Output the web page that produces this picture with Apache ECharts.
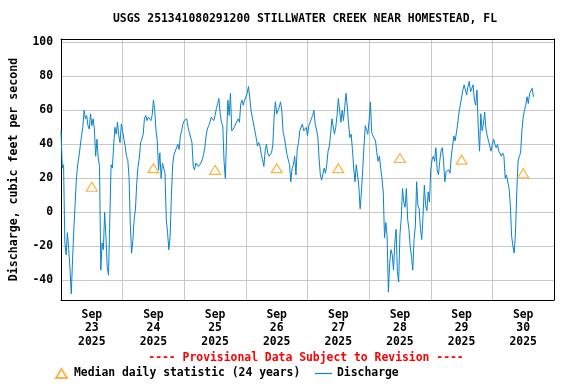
<!DOCTYPE html>
<html>
<head>
<meta charset="utf-8">
<script src="https://cdn.jsdelivr.net/npm/echarts@6/dist/echarts.min.js"></script>
<style>html,body{margin:0;padding:0;background:#fff}#c{width:576px;height:384px}</style>
</head>
<body>
<div id="c"></div>
<script>
const chartTitle = 'USGS 251341080291200 STILLWATER CREEK NEAR HOMESTEAD, FL';
const provisionalNote = '---- Provisional Data Subject to Revision ----';
const yAxisTitle = 'Discharge, cubic feet per second';
const dayLabels = ['Sep\n23\n2025', 'Sep\n24\n2025', 'Sep\n25\n2025', 'Sep\n26\n2025',
                   'Sep\n27\n2025', 'Sep\n28\n2025', 'Sep\n29\n2025', 'Sep\n30\n2025'];
// discharge readings every 30 minutes starting Sep 23 2025 00:00 (hours on x axis)
const stepHours = 0.5;
const discharge = [
  48, 26, 28, -18, -25, -12, -22, -33, -48, -28, -10, 5, 20, 28, 33, 39, 45, 50, 60, 55,
  57, 51, 49, 58, 51, 55, 49, 33, 43, 32, 27, -34, -18, -22, 0, -14, -32, -37, -5, 28,
  26, 39, 50, 46, 53, 45, 41, 52, 48, 43, 39, 33, 31, 21, -8, -24, -16, -4, 2, 17,
  27, 32, 41, 43,
  46, 55, 57, 54, 56, 55, 54, 57, 66, 60, 48, 42, 25, 35, 20, 29, 26, 23, -4, -12,
  -22, -14, 10, 28, 34, 36, 35, 40, 37, 45, 48, 52, 54, 55, 55, 50, 47, 46, 41, 27,
  25, 29, 28, 27, 28, 29, 31, 34, 38, 45, 49, 51, 53, 56, 56, 54, 57, 61, 64, 67,
  58, 53, 51, 30,
  20, 45, 66, 57, 70, 48, 47, 50, 52, 52, 55, 53, 64, 66, 63, 66, 65, 70, 74, 68,
  60, 56, 52, 48, 44, 39, 41, 39, 34, 31, 27, 36, 40, 35, 33, 33, 35, 40, 56, 65,
  58, 60, 62, 65, 60, 47, 44, 39, 34, 31, 28, 18, 26, 28, 33, 22, 37, 41, 48, 47,
  52, 48, 49, 50,
  45, 51, 51, 55, 57, 60, 52, 51, 45, 32, 22, 19, 18, 26, 23, 28, 36, 39, 46, 55,
  56, 46, 50, 57, 67, 60, 53, 60, 54, 62, 70, 62, 52, 44, 46, 37, 26, 18, 28, 22,
  15, 2, 12, 25, 39, 51, 50, 46, 54, 65, 47, 45, 44, 42, 35, 30, 33, 26, 20, 12,
  -15, -6, -14, -47,
  -30, -22, -25, -34, -18, -10, -35, -41, -13, -4, 14, 6, 3, 14, -4, -10, -20, -26, -34, -16,
  -8, 18, 4, 2, -10, -16, -2, 16, 4, 1, 12, 6, 25, 31, 33, 30, 38, 25, 22, 30,
  36, 38, 30, 18, 24, 25, 25, 23, 33, 39, 45, 42, 43, 52, 59, 63, 64, 72, 75, 72,
  69, 74, 77, 71, 73,
  75, 66, 63, 72, 50, 36, 58, 48, 52, 59, 49, 45, 42, 41, 36, 40, 43, 40, 38, 40,
  36, 37, 33, 35, 33, 20, 22, 21, 14, 4, -14, -20, -24, -12, 12, 30, 33, 35, 48, 56,
  60, 63, 68, 64, 70, 70, 73, 68
];
// median daily statistic, plotted at noon of each day
const medianDaily = [15, 26, 25, 26, 26, 32, 31, 23];
const medianName = 'Median daily statistic (24 years)';
const dischargeName = 'Discharge';

const font = '"DejaVu Sans Mono", "Liberation Mono", monospace';
const txt = { fontFamily: font, fontWeight: 'bold', fontSize: 11.4, color: '#000' };
const frameLine = { show: true, onZero: false, lineStyle: { color: '#000', width: 1 } };

const dischargeData = discharge.map((v, i) => [i * stepHours, v]);
const medianData = medianDaily.map((v, i) => [i * 24 + 12, v]);

const chart = echarts.init(document.getElementById('c'), null, { renderer: 'canvas' });
chart.setOption({
  animation: false,
  backgroundColor: '#fff',
  grid: { left: 58, right: 22, top: 39, bottom: 84, containLabel: false },
  graphic: [
    { type: 'text', x: 305, y: 14, style: { text: chartTitle, font: 'bold 11.4px ' + font, fill: '#000', align: 'center', textAlign: 'center', verticalAlign: 'top' } },
    { type: 'text', x: 306, y: 353, style: { text: provisionalNote, font: 'bold 11.4px ' + font, fill: '#ff0000', align: 'center', textAlign: 'center', verticalAlign: 'top' } }
  ],
  xAxis: [
    { type: 'value', min: 0, max: 192, interval: 24, position: 'bottom',
      axisLine: frameLine,
      axisTick: { show: false }, axisLabel: { show: false },
      splitLine: { show: true, lineStyle: { color: '#c8c8c8', width: 1 } } },
    { type: 'category', data: dayLabels, position: 'bottom', boundaryGap: true,
      axisLine: { show: false, onZero: false }, axisTick: { show: false }, splitLine: { show: false },
      axisLabel: Object.assign({ margin: 8, lineHeight: 13.5 }, txt) },
    { type: 'value', min: 0, max: 192, position: 'top',
      axisLine: frameLine,
      axisTick: { show: false }, axisLabel: { show: false }, splitLine: { show: false } }
  ],
  yAxis: [
    { type: 'value', min: -51.6, max: 102, minInterval: 20, maxInterval: 20, splitNumber: 8,
      position: 'left',
      name: yAxisTitle, nameLocation: 'middle', nameGap: 41, nameTextStyle: Object.assign({}, txt, { fontSize: 11.6 }),
      axisLine: frameLine,
      axisTick: { show: false },
      axisLabel: Object.assign({ margin: 8, showMinLabel: false, showMaxLabel: false }, txt),
      splitLine: { show: true, lineStyle: { color: '#c8c8c8', width: 1 } } },
    { type: 'value', min: -51.6, max: 102, position: 'right',
      axisLine: frameLine,
      axisTick: { show: false }, axisLabel: { show: false }, splitLine: { show: false } }
  ],
  legend: [
    { data: [{ name: medianName, icon: 'triangle' }], left: 55, top: 368, padding: 0,
      itemWidth: 11, itemHeight: 9, itemGap: 0, selectedMode: false,
      textStyle: Object.assign({ padding: [0, 0, 0, 2] }, txt) },
    { data: [{ name: dischargeName, icon: 'rect', itemStyle: { color: '#0a82d0' } }], left: 315, top: 368, padding: 0,
      itemWidth: 17, itemHeight: 1.2, selectedMode: false,
      textStyle: Object.assign({}, txt) }
  ],
  series: [
    { name: dischargeName, type: 'line', xAxisIndex: 0, yAxisIndex: 0, data: dischargeData,
      symbol: 'none', showSymbol: false, sampling: null,
      lineStyle: { color: '#0a82d0', width: 1 }, itemStyle: { color: '#0a82d0' }, z: 2 },
    { name: medianName, type: 'scatter', xAxisIndex: 0, yAxisIndex: 0, data: medianData,
      symbol: 'triangle', symbolSize: [11, 9],
      itemStyle: { color: 'rgba(0,0,0,0)', borderColor: '#f7a21a', borderWidth: 1.2 }, z: 3 }
  ]
});
</script>
</body>
</html>
